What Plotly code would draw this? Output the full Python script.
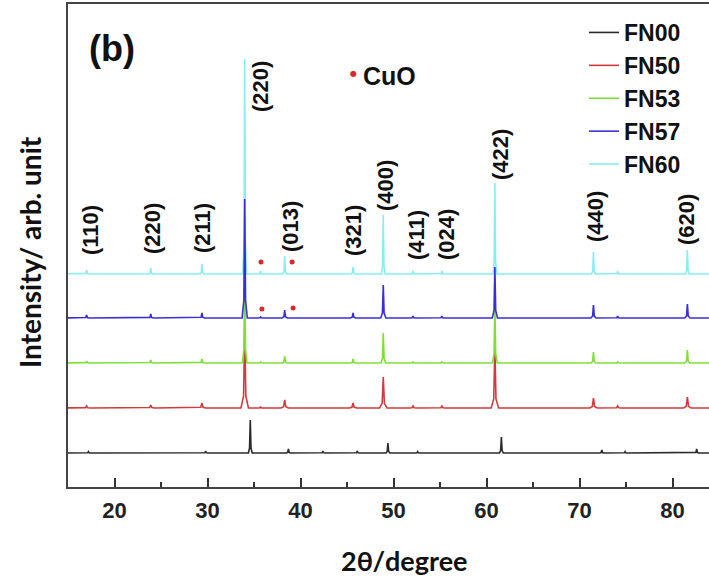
import plotly.graph_objects as go

# ---------------- data ----------------
SERIES = ["FN00", "FN50", "FN53", "FN57", "FN60"]
COLORS = {"FN00": "#2b2b2b", "FN50": "#d23b3b", "FN53": "#7de03a",
          "FN57": "#3a2fd6", "FN60": "#86eef2"}
# vertical stacking offsets (arb. units)
OFFSETS = {"FN00": 34, "FN50": 79, "FN53": 124, "FN57": 169, "FN60": 213}

# peak positions (2theta, degree) shared by doped samples
PEAK_POS = [17.0, 23.9, 29.4, 34.0, 35.7, 38.3, 45.65, 48.9, 52.1, 55.2, 60.9, 71.5, 74.1, 81.6]
H_FN60 = [4, 6, 10, 215, 3, 18, 7, 59, 3, 3, 91, 22, 3, 24]
H_FN57 = [3, 4, 5, 119, 1, 8, 5, 33, 2, 2, 51, 13, 2, 14]
H_FN53 = [2, 3, 4, 90, 1, 7, 4, 30, 1, 1, 60, 11, 1, 13]
H_FN50 = [2, 3, 5, 80, 1, 8, 5, 31, 2, 2, 60, 10, 2, 11]
# undoped sample
PEAK_POS_FN00 = [17.2, 29.8, 34.6, 38.7, 42.4, 46.1, 49.4, 52.6, 61.6, 72.4, 74.9, 82.6]
H_FN00 = [1.5, 2, 33, 4, 2, 2, 10, 1.5, 16, 3, 1.5, 4]

# CuO impurity markers (2theta, height above baseline)
CUO_FN60_POS = [35.75, 39.1]
CUO_FN60_H = [12, 12]
CUO_FN57_POS = [35.85, 39.2]
CUO_FN57_H = [9, 10]

# hkl labels: text, 2theta of label centre, height of label centre
HKL_TEXT = ["(110)", "(220)", "(211)", "(220)", "(013)", "(321)", "(400)",
            "(411)", "(024)", "(422)", "(440)", "(620)"]
HKL_POS = [17.37, 24.03, 29.41, 35.65, 38.87, 45.65, 49.09, 52.42, 55.65, 61.45, 71.67, 81.45]
HKL_Y = [257, 259, 259, 400, 261, 256, 301, 252, 252, 333, 270, 268]

X_TICKS = [20, 30, 40, 50, 60, 70, 80]

# ---------------- figure ----------------
PEAKS = {
    "FN00": (PEAK_POS_FN00, H_FN00, 0.08, 0.2),
    "FN50": (PEAK_POS, H_FN50, 0.12, 0.4),
    "FN53": (PEAK_POS, H_FN53, 0.09, 0.25),
    "FN57": (PEAK_POS, H_FN57, 0.09, 0.28),
    "FN60": (PEAK_POS, H_FN60, 0.07, 0.2),
}


def profile(pos, hts, tip, base, off):
    xs, ys = [14.0], [off]
    for p, h in sorted(zip(pos, hts)):
        xs += [p - base, p - tip, p, p + tip, p + base]
        ys += [off, off + 0.15 * h, off + h, off + 0.15 * h, off]
    xs.append(86.0)
    ys.append(off)
    return xs, ys


fig = go.Figure()
draw_order = ["FN60", "FN50", "FN53", "FN57", "FN00"]
for name in draw_order:
    pos, hts, tip, base = PEAKS[name]
    xs, ys = profile(pos, hts, tip, base, OFFSETS[name])
    fig.add_trace(go.Scatter(
        x=xs, y=ys, mode="lines", name=name,
        line=dict(color=COLORS[name], width=1.6),
        legendrank=SERIES.index(name) + 1,
    ))

for cpos, ch, name in [(CUO_FN60_POS, CUO_FN60_H, "FN60"), (CUO_FN57_POS, CUO_FN57_H, "FN57")]:
    fig.add_trace(go.Scatter(
        x=cpos, y=[OFFSETS[name] + h for h in ch], mode="markers",
        marker=dict(color="#d42a2a", size=5), showlegend=False, hoverinfo="skip"))

LBL_FONT = dict(family="Liberation Sans, Arial", size=22, color="#111111", weight="bold")
for t, x, y in zip(HKL_TEXT, HKL_POS, HKL_Y):
    fig.add_annotation(x=x, y=y, xref="x", yref="y", text=t, showarrow=False,
                       textangle=-90, font=LBL_FONT, xanchor="center", yanchor="middle")


def px_x(px):
    return (px - 68) / 641


def px_y(py):
    return (487 - py) / 483


# panel tag and CuO key
fig.add_annotation(x=px_x(112), y=px_y(48), xref="paper", yref="paper", text="(b)",
                   showarrow=False, xanchor="center", yanchor="middle",
                   font=dict(family="Liberation Sans, Arial", size=36, color="#111", weight="bold"))
fig.add_annotation(x=px_x(353), y=px_y(73), xref="paper", yref="paper", text="●",
                   showarrow=False, xanchor="center", yanchor="middle",
                   font=dict(family="DejaVu Sans", size=8, color="#d42a2a"))
fig.add_annotation(x=px_x(361), y=px_y(76), xref="paper", yref="paper", text="CuO",
                   showarrow=False, xanchor="left", yanchor="middle",
                   font=dict(family="Liberation Sans, Arial", size=25, color="#111", weight="bold"))

# axis titles
fig.add_annotation(x=px_x(404), y=px_y(560), xref="paper", yref="paper",
                   text="2θ/degree", showarrow=False,
                   font=dict(family="Lato, Open Sans", size=27, color="#111", weight="bold"),
                   xanchor="center", yanchor="middle")
fig.add_annotation(x=px_x(30), y=px_y(252), xref="paper", yref="paper",
                   text="Intensity/ arb. unit", showarrow=False,
                   font=dict(family="Lato, Open Sans", size=28, color="#111", weight="bold"),
                   textangle=-90, xanchor="center", yanchor="middle")

fig.update_layout(
    width=709, height=577,
    margin=dict(l=68, r=0, t=4, b=90),
    paper_bgcolor="white", plot_bgcolor="white",
    showlegend=True,
    legend=dict(x=px_x(584), y=px_y(11), xanchor="left", yanchor="top",
                bgcolor="rgba(0,0,0,0)", borderwidth=0, tracegroupgap=0,
                font=dict(family="Liberation Sans, Arial", size=23, color="#111", weight="bold")),
    xaxis=dict(range=[15, 15 + 641 / 9.3], tickvals=X_TICKS, ticks="inside", ticklen=9,
               tickwidth=2, tickcolor="#333", showline=True, linecolor="#444", linewidth=2,
               mirror=True, showgrid=False, zeroline=False, ticklabelstandoff=3,
               minor=dict(ticks="inside", dtick=5, tick0=0, ticklen=5, tickwidth=2, tickcolor="#333"),
               tickfont=dict(family="Liberation Sans, Arial", size=22, color="#222", weight="bold")),
    yaxis=dict(range=[0, 483], showline=True, linecolor="#444", linewidth=2, ticks="",
               showticklabels=False, showgrid=False, zeroline=False),
)

fig.write_html("out.html", config={"displayModeBar": False},
               post_script="document.body.style.margin='0';")
